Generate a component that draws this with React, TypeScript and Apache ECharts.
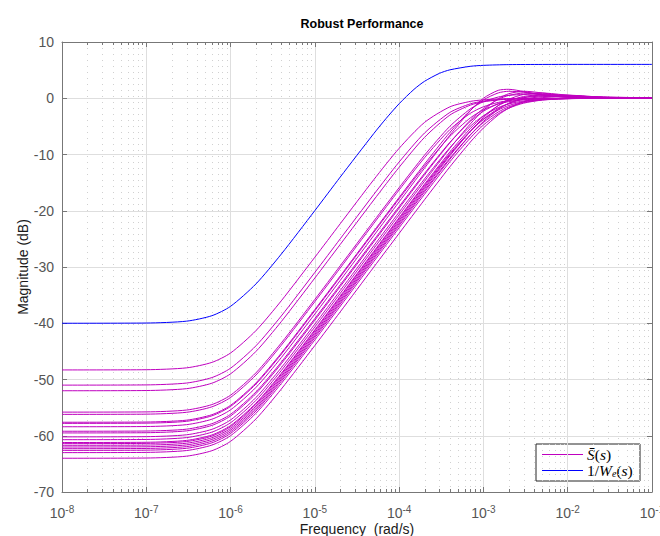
import React, { useEffect, useRef } from "react";
import * as echarts from "echarts";

// Frequency grid (rad/s) shared by all sensitivity curves
const freqs = [1e-8, 1e-7, 3e-7, 6e-7, 1e-6, 2e-6, 4e-6, 1e-5, 2e-5, 5e-5, 1e-4, 2e-4, 4e-4, 7e-4, 1e-3, 1.5e-3, 2e-3, 3e-3, 5e-3, 1e-2, 3e-2, 1e-1];

// Magnitudes (dB) of the uncertain sensitivity samples S(s)
const sCurve01 = [-48.3, -48.26, -47.93, -46.96, -45.29, -41.31, -36.0, -28.26, -22.31, -14.48, -8.9, -4.3, -1.53, -0.56, -0.28, -0.13, -0.07, -0.03, -0.01, 0, 0, 0];
const sCurve02 = [-51.0, -50.96, -50.63, -49.66, -47.99, -44.01, -38.7, -30.96, -24.99, -17.11, -11.33, -6.18, -2.52, -0.99, -0.52, -0.24, -0.13, -0.06, -0.02, -0.01, 0, 0];
const sCurve03 = [-52.0, -51.96, -51.63, -50.66, -48.99, -45.01, -39.7, -31.96, -25.99, -18.09, -12.27, -6.96, -2.99, -1.22, -0.64, -0.3, -0.17, -0.08, -0.03, -0.01, 0, 0];
const sCurve04 = [-55.8, -55.76, -55.43, -54.46, -52.79, -48.81, -43.5, -35.76, -29.78, -21.84, -15.89, -10.12, -4.98, -1.89, -0.62, 0.22, 0.52, 0.65, 0.52, 0.23, 0.03, 0.01];
const sCurve05 = [-56.2, -56.16, -55.83, -54.86, -53.19, -49.21, -43.9, -36.16, -30.18, -22.25, -16.3, -10.58, -5.57, -2.68, -1.51, -0.74, -0.43, -0.2, -0.07, -0.02, 0, 0];
const sCurve06 = [-57.6, -57.56, -57.23, -56.26, -54.59, -50.61, -45.3, -37.56, -31.58, -23.63, -17.63, -11.71, -6.07, -2.15, -0.29, 0.95, 1.24, 1.08, 0.6, 0.19, 0.02, 0];
const sCurve07 = [-57.8, -57.76, -57.43, -56.46, -54.79, -50.81, -45.5, -37.76, -31.78, -23.84, -17.87, -12.06, -6.78, -3.49, -2.05, -1.03, -0.61, -0.28, -0.1, -0.03, 0, 0];
const sCurve08 = [-58.4, -58.36, -58.03, -57.06, -55.39, -51.41, -46.1, -38.36, -32.38, -24.42, -18.41, -12.43, -6.57, -2.21, 0.0, 1.41, 1.59, 1.2, 0.58, 0.17, 0.02, 0];
const sCurve09 = [-59.2, -59.16, -58.83, -57.86, -56.19, -52.21, -46.9, -39.16, -33.18, -25.23, -19.25, -13.36, -7.83, -4.1, -2.31, -0.94, -0.34, 0.14, 0.37, 0.36, 0.1, 0.01];
const sCurve10 = [-59.5, -59.46, -59.13, -58.16, -56.49, -52.51, -47.2, -39.46, -33.48, -25.53, -19.53, -13.6, -7.92, -3.89, -1.84, -0.19, 0.5, 0.92, 0.8, 0.36, 0.05, 0];
const sCurve11 = [-60.2, -60.16, -59.83, -58.86, -57.19, -53.21, -47.9, -40.16, -34.18, -26.23, -20.24, -14.34, -8.78, -4.97, -3.11, -1.66, -1.01, -0.48, -0.18, -0.05, 0, 0];
const sCurve12 = [-60.7, -60.66, -60.33, -59.36, -57.69, -53.71, -48.4, -40.66, -34.68, -26.72, -20.72, -14.75, -8.91, -4.55, -2.15, -0.08, 0.81, 1.25, 0.94, 0.35, 0.04, 0];
const sCurve13 = [-61.2, -61.16, -60.83, -59.86, -58.19, -54.21, -48.9, -41.16, -35.18, -27.23, -21.23, -15.28, -9.54, -5.39, -3.19, -1.32, -0.43, 0.31, 0.64, 0.5, 0.1, 0.01];
const sCurve14 = [-61.4, -61.36, -61.03, -60.06, -58.39, -54.41, -49.1, -41.36, -35.38, -27.43, -21.43, -15.5, -9.84, -5.82, -3.77, -2.08, -1.29, -0.62, -0.23, -0.06, 0, 0];
const sCurve15 = [-61.7, -61.66, -61.33, -60.36, -58.69, -54.71, -49.4, -41.66, -35.68, -27.73, -21.73, -15.78, -10.05, -5.9, -3.71, -1.84, -0.94, -0.16, 0.28, 0.4, 0.16, 0.02];
const sCurve16 = [-62.0, -61.96, -61.63, -60.66, -58.99, -55.01, -49.7, -41.96, -35.98, -28.02, -22.02, -16.05, -10.22, -5.87, -3.45, -1.28, -0.19, 0.69, 0.93, 0.55, 0.09, 0.01];
const sCurve17 = [-62.3, -62.26, -61.93, -60.96, -59.29, -55.31, -50.0, -42.26, -36.28, -28.33, -22.33, -16.38, -10.65, -6.5, -4.31, -2.44, -1.54, -0.75, -0.29, -0.07, 0, 0];
const sCurve18 = [-62.6, -62.56, -62.23, -61.26, -59.59, -55.61, -50.3, -42.56, -36.58, -28.62, -22.62, -16.65, -10.85, -6.51, -4.13, -1.98, -0.89, 0.08, 0.59, 0.56, 0.14, 0.01];
const sCurve19 = [-63.0, -62.96, -62.63, -61.66, -59.99, -56.01, -50.7, -42.96, -36.98, -29.03, -23.02, -17.07, -11.29, -7.05, -4.76, -2.76, -1.76, -0.87, -0.33, -0.09, 0, 0];
const sCurve20 = [-64.0, -63.96, -63.63, -62.66, -60.99, -57.01, -51.7, -43.96, -37.98, -30.02, -24.02, -18.04, -12.19, -7.78, -5.29, -2.98, -1.76, -0.61, 0.1, 0.39, 0.23, 0.03];

const sCurves = [sCurve01, sCurve02, sCurve03, sCurve04, sCurve05, sCurve06, sCurve07, sCurve08, sCurve09, sCurve10, sCurve11, sCurve12, sCurve13, sCurve14, sCurve15, sCurve16, sCurve17, sCurve18, sCurve19, sCurve20];

// Performance weight bound 1/We(s)
const weightFreqs = [1e-8, 1e-7, 3e-7, 6e-7, 1e-6, 2e-6, 4e-6, 1e-5, 2e-5, 5e-5, 7e-5, 1e-4, 1.5e-4, 2e-4, 3e-4, 4e-4, 7e-4, 1e-3, 2e-3, 5e-3, 1e-2, 1e-1];
const weightDb = [-40.0, -39.96, -39.63, -38.66, -36.99, -33.01, -27.7, -19.97, -14.01, -6.28, -3.6, -0.97, 1.58, 3.01, 4.42, 5.05, 5.68, 5.85, 5.98, 6.01, 6.02, 6.02];

// Axes
const xMin = 1e-8;
const xMax = 1e-1;
const yMin = -70;
const yMax = 10;
const yStep = 10;
const decadeExponents = [-8, -7, -6, -5, -4, -3, -2];
const minorMultipliers = [2, 3, 4, 5, 6, 7, 8, 9];

const TITLE = "Robust Performance";
const X_NAME = "Frequency  (rad/s)";
const Y_NAME = "Magnitude (dB)";
const LEGEND_S = "{i|S\u0304}{r|(}{i|s}{r|)}";
const LEGEND_W = "{r|1/}{i|W}{sub|e}{r|(}{i|s}{r|)}";

const MAGENTA = "#bf00bf";
const BLUE = "#0000ff";
const AXIS = "#777777";
const LABEL = "#555555";

const minorTicks: number[][] = [];
decadeExponents.forEach((e) => {
  minorMultipliers.forEach((m) => {
    minorTicks.push([m * Math.pow(10, e), yMin]);
  });
});

export default function App() {
  const ref = useRef<HTMLDivElement>(null);

  useEffect(() => {
    if (!ref.current) return;
    const chart = echarts.init(ref.current, undefined, { renderer: "svg" });

    const sans = "'Liberation Sans', Arial, Helvetica, sans-serif";
    const serif = "'Liberation Serif', 'DejaVu Serif', serif";

    const series: any[] = [
      {
        type: "custom",
        name: "minor",
        silent: true,
        clip: false,
        z: 1,
        data: minorTicks,
        encode: { x: 0, y: 1 },
        renderItem: (params: any, api: any) => {
          const pb = api.coord([api.value(0), yMin]);
          const pt = api.coord([api.value(0), yMax]);
          const x = Math.round(pb[0]) + 0.5;
          return {
            type: "group",
            children: [
              {
                type: "line",
                shape: { x1: x, y1: pt[1], x2: x, y2: pb[1] },
                style: { stroke: "#d0d0d0", lineWidth: 1, lineDash: [1, 5] },
              },
              {
                type: "line",
                shape: { x1: x, y1: pb[1], x2: x, y2: pb[1] - 3 },
                style: { stroke: AXIS, lineWidth: 1 },
              },
              {
                type: "line",
                shape: { x1: x, y1: pt[1], x2: x, y2: pt[1] + 3 },
                style: { stroke: AXIS, lineWidth: 1 },
              },
            ],
          };
        },
      },
    ];

    sCurves.forEach((c) => {
      series.push({
        type: "line",
        name: "S",
        data: freqs.map((f, i) => [f, c[i]]),
        symbol: "none",
        showSymbol: false,
        smooth: 0.25,
        silent: true,
        z: 3,
        lineStyle: { color: MAGENTA, width: 1 },
        itemStyle: { color: MAGENTA },
      });
    });

    series.push({
      type: "line",
      name: "W",
      data: weightFreqs.map((f, i) => [f, weightDb[i]]),
      symbol: "none",
      showSymbol: false,
      smooth: 0.25,
      silent: true,
      z: 4,
      lineStyle: { color: BLUE, width: 1 },
      itemStyle: { color: BLUE },
    });

    const legendRich = {
      i: { fontFamily: serif, fontStyle: "italic", fontSize: 15.5, color: "#000", lineHeight: 16 },
      r: { fontFamily: serif, fontSize: 15.5, color: "#000", lineHeight: 16 },
      sub: { fontFamily: serif, fontStyle: "italic", fontSize: 10, color: "#000", lineHeight: 12, verticalAlign: "bottom" },
    };

    const option: any = {
      animation: false,
      backgroundColor: "#ffffff",
      textStyle: { fontFamily: sans },
      title: {
        text: TITLE,
        left: 357,
        top: 12,
        textAlign: "center",
        textStyle: { fontSize: 12.5, fontWeight: "bold", color: "#000000", fontFamily: sans },
      },
      grid: { left: 62, right: 8, top: 42, bottom: 44, containLabel: false, outerBoundsMode: "none" },
      graphic: [
        {
          type: "group",
          z: 100,
          children: [
            {
              type: "rect",
              shape: { x: 536, y: 444, width: 104, height: 37 },
              style: { fill: "#ffffff", stroke: "#262626", lineWidth: 1 },
            },
            {
              type: "line",
              shape: { x1: 542, y1: 454.5, x2: 583, y2: 454.5 },
              style: { stroke: MAGENTA, lineWidth: 1 },
            },
            {
              type: "line",
              shape: { x1: 542, y1: 470.5, x2: 583, y2: 470.5 },
              style: { stroke: BLUE, lineWidth: 1 },
            },
            {
              type: "text",
              x: 587,
              y: 454,
              style: { text: LEGEND_S, rich: legendRich, verticalAlign: "middle", align: "left" },
            },
            {
              type: "text",
              x: 587,
              y: 470,
              style: { text: LEGEND_W, rich: legendRich, verticalAlign: "middle", align: "left" },
            },
          ],
        },
      ],
      xAxis: [
        {
          type: "log",
          logBase: 10,
          min: xMin,
          max: xMax,
          splitNumber: 7,
          position: "bottom",
          name: X_NAME,
          nameLocation: "middle",
          nameGap: 29,
          nameMoveOverlap: false,
          nameTextStyle: { fontSize: 14, color: "#1a1a1a", fontFamily: sans, lineHeight: 16 },
          axisLine: { show: true, onZero: false, lineStyle: { color: AXIS, width: 1 } },
          axisTick: { show: true, inside: true, length: 5, lineStyle: { color: AXIS } },
          axisLabel: {
            margin: 12,
            color: LABEL,
            fontSize: 14,
            fontFamily: sans,
            hideOverlap: false,
            formatter: (v: number) => "{b|10}{s|" + Math.round(Math.log10(v)) + "}",
            rich: {
              b: { fontSize: 14, color: LABEL, fontFamily: sans, verticalAlign: "bottom", lineHeight: 16 },
              s: { fontSize: 10, color: LABEL, fontFamily: sans, verticalAlign: "top", lineHeight: 7 },
            },
          },
          splitLine: { show: true, lineStyle: { color: "#dedede", width: 1 } },
        },
        {
          type: "log",
          logBase: 10,
          min: xMin,
          max: xMax,
          splitNumber: 7,
          position: "top",
          axisLine: { show: true, onZero: false, lineStyle: { color: AXIS, width: 1 } },
          axisTick: { show: true, inside: true, length: 5, lineStyle: { color: AXIS } },
          axisLabel: { show: false },
          splitLine: { show: false },
        },
      ],
      yAxis: [
        {
          type: "value",
          min: yMin,
          max: yMax,
          interval: yStep,
          position: "left",
          name: Y_NAME,
          nameLocation: "middle",
          nameGap: 32,
          nameMoveOverlap: false,
          nameTextStyle: { fontSize: 14, color: "#1a1a1a", fontFamily: sans },
          axisLine: { show: true, onZero: false, lineStyle: { color: AXIS, width: 1 } },
          axisTick: { show: true, inside: true, length: 5, lineStyle: { color: AXIS } },
          axisLabel: { margin: 8, color: LABEL, fontSize: 14, fontFamily: sans },
          splitLine: { show: true, lineStyle: { color: "#dedede", width: 1 } },
        },
        {
          type: "value",
          min: yMin,
          max: yMax,
          interval: yStep,
          position: "right",
          axisLine: { show: true, onZero: false, lineStyle: { color: AXIS, width: 1 } },
          axisTick: { show: true, inside: true, length: 5, lineStyle: { color: AXIS } },
          axisLabel: { show: false },
          splitLine: { show: false },
        },
      ],
      series,
    };

    chart.setOption(option);
    return () => {
      chart.dispose();
    };
  }, []);

  return (
    <div
      ref={ref}
      style={{ position: "fixed", left: 0, top: 0, width: 660, height: 536, background: "#fff" }}
    />
  );
}
